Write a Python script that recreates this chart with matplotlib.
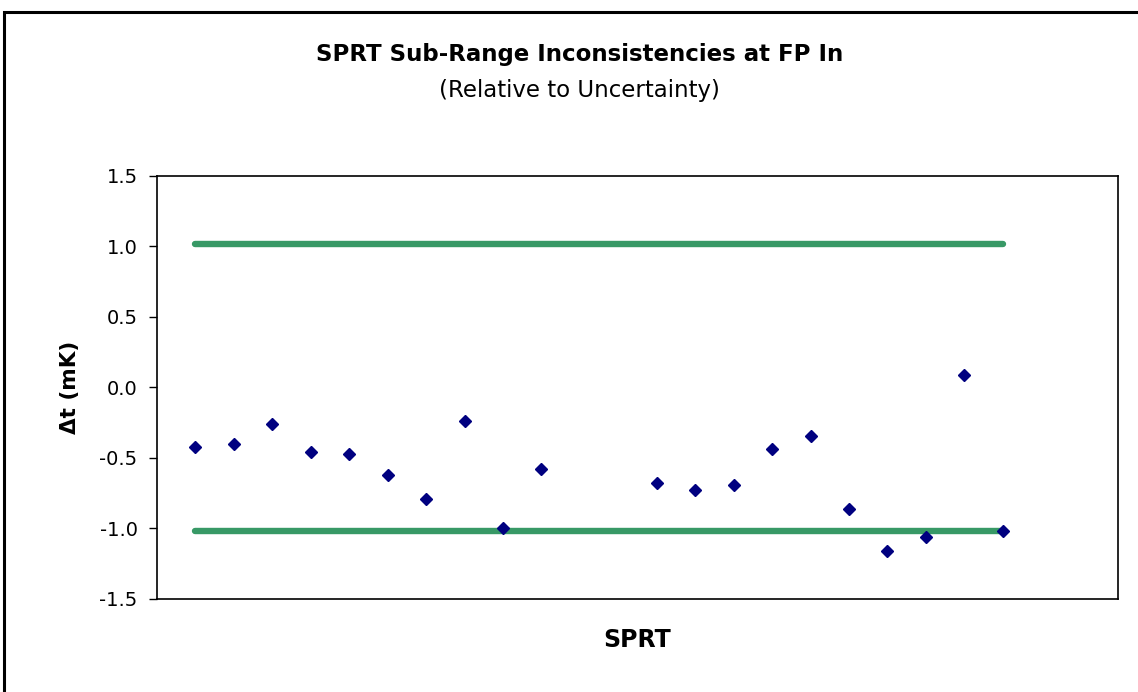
import numpy as np
import matplotlib.pyplot as plt
from matplotlib.patches import Rectangle

plt.rcParams['font.family'] = ['DejaVu Sans']

# SPRT index (11 and 12 have no value)
sprt = [1, 2, 3, 4, 5, 6, 7, 8, 9, 10, 13, 14, 15, 16, 17, 18, 19, 20, 21, 22]
delta_t = [-0.42, -0.40, -0.26, -0.455, -0.47, -0.62, -0.79, -0.235, -1.00, -0.58,
           -0.68, -0.73, -0.695, -0.435, -0.345, -0.86, -1.16, -1.06, 0.09, -1.02]

# uncertainty limits
limit_x = [1, 22]
upper_limit = [1.02, 1.02]
lower_limit = [-1.02, -1.02]

fig = plt.figure(figsize=(11.38, 6.92), dpi=100)
ax = fig.add_axes([0.138, 0.1344, 0.8445, 0.6113])

ax.plot(limit_x, upper_limit, color='#389966', lw=4.6, solid_capstyle='round', zorder=2)
ax.plot(limit_x, lower_limit, color='#389966', lw=4.6, solid_capstyle='round', zorder=2)
ax.plot(sprt, delta_t, 'D', color='#000080', markersize=6.2, linestyle='none', zorder=3)

ax.set_xlim(0, 25)
ax.set_ylim(-1.5, 1.5)
ticks = np.arange(-1.5, 1.51, 0.5)
ax.set_yticks(ticks)
ax.set_yticklabels([f'{v:.1f}' for v in ticks], fontsize=14)
ax.set_xticks([])
ax.tick_params(axis='y', direction='out', length=6, width=1, pad=8)
for s in ax.spines.values():
    s.set_linewidth(1.2)

ax.set_ylabel('Δt (mK)', fontsize=15.5, fontweight='bold', labelpad=14)
ax.set_xlabel('SPRT', fontsize=17, fontweight='bold', labelpad=21)

fig.text(0.509, 0.921, 'SPRT Sub-Range Inconsistencies at FP In', ha='center', va='center',
         fontsize=16.5, fontweight='bold')
fig.text(0.509, 0.869, '(Relative to Uncertainty)', ha='center', va='center', fontsize=16.5)

# outer chart border
fig.patches.append(Rectangle((4 / 1138, -0.05), 1.1, 1 - 12 / 692 + 0.05, transform=fig.transFigure,
                             fill=False, edgecolor='black', lw=2.2))

fig.savefig('out.png', dpi=100)
